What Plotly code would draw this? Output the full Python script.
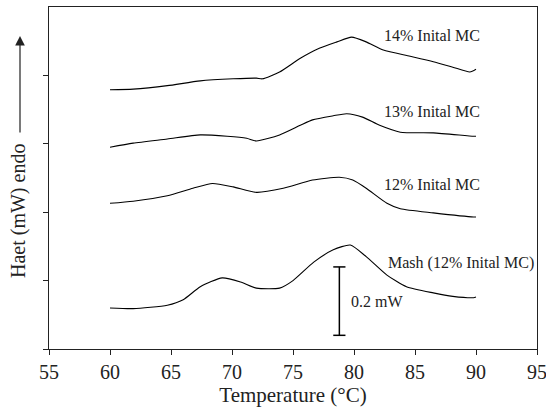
import plotly.graph_objects as go

FONT = "Liberation Serif"

# Temperature (°C) and offset heat-flow signal (plot units; 1 unit = 0.2 mW)
mash_t = [60, 61.9, 64.7, 66.0, 67.4, 69.2, 70.7, 72.0, 73.9, 75.0, 76.7, 78.3, 79.7, 81.0, 82.7, 84.3, 86.5, 88.1, 89.8, 90]
mash_y = [0.60, 0.59, 0.64, 0.72, 0.91, 1.04, 0.98, 0.89, 0.89, 1.00, 1.27, 1.45, 1.52, 1.35, 1.08, 0.91, 0.82, 0.77, 0.75, 0.76]

mc12_t = [60, 61.9, 64.7, 66.8, 68.4, 70.1, 72.0, 74.2, 76.6, 78.8, 79.9, 81.0, 82.7, 83.8, 86.5, 89.8, 90]
mc12_y = [2.13, 2.16, 2.24, 2.35, 2.42, 2.37, 2.29, 2.35, 2.47, 2.51, 2.47, 2.35, 2.13, 2.05, 1.99, 1.93, 1.93]

mc13_t = [60, 61.9, 64.7, 67.4, 69.6, 71.2, 72.0, 73.9, 75.6, 76.6, 78.3, 79.4, 80.7, 82.1, 83.8, 86.5, 89.8, 90]
mc13_y = [2.95, 3.01, 3.07, 3.13, 3.11, 3.08, 3.04, 3.13, 3.27, 3.35, 3.41, 3.44, 3.39, 3.27, 3.17, 3.16, 3.11, 3.11]

mc14_t = [60, 61.9, 64.7, 67.4, 70.1, 72.0, 72.5, 73.9, 75.6, 77.2, 78.6, 79.8, 81.0, 82.4, 84.6, 86.5, 88.1, 89.5, 90]
mc14_y = [3.79, 3.80, 3.85, 3.92, 3.95, 3.96, 3.95, 4.05, 4.25, 4.40, 4.49, 4.56, 4.49, 4.37, 4.28, 4.20, 4.12, 4.05, 4.09]

series_names = ["Mash (12% Inital MC)", "12% Inital MC", "13% Inital MC", "14% Inital MC"]
label_pos = [(82.6, 1.26), (82.3, 2.41), (82.3, 3.47), (82.3, 4.58)]

x_ticks = [55, 60, 65, 70, 75, 80, 85, 90, 95]
y_ticks = [0, 1, 2, 3, 4]

scale_x = 78.8
scale_y = [0.2, 1.2]
scale_label = "0.2 mW"

fig = go.Figure()
for t, y in [(mash_t, mash_y), (mc12_t, mc12_y), (mc13_t, mc13_y), (mc14_t, mc14_y)]:
    fig.add_trace(go.Scatter(x=t, y=y, mode="lines",
                             line=dict(color="black", width=1.1, shape="spline", smoothing=0.6),
                             showlegend=False, hoverinfo="skip"))

# scale bar
cap = 0.5
fig.add_trace(go.Scatter(
    x=[scale_x, scale_x, None, scale_x - cap, scale_x + cap, None, scale_x - cap, scale_x + cap],
    y=[scale_y[0], scale_y[1], None, scale_y[0], scale_y[0], None, scale_y[1], scale_y[1]],
    mode="lines", line=dict(color="black", width=1.5), showlegend=False, hoverinfo="skip"))

annotations = []
for name, (lx, ly) in zip(series_names, label_pos):
    annotations.append(dict(x=lx, y=ly, xref="x", yref="y", text=name, showarrow=False,
                            xanchor="left", yanchor="middle",
                            font=dict(family=FONT, size=16, color="#222")))
annotations.append(dict(x=scale_x + 0.8, y=0.69, xref="x", yref="y", text=scale_label,
                        showarrow=False, xanchor="left", yanchor="middle",
                        font=dict(family=FONT, size=16, color="#222")))
# y-axis title and arrow (plot area is 488 x 342 px)
annotations.append(dict(x=-31 / 488, y=(342 - 204) / 342, xref="paper", yref="paper",
                        text="Haet (mW) endo", textangle=-90, showarrow=False,
                        xanchor="center", yanchor="middle",
                        font=dict(family=FONT, size=20, color="#222")))
annotations.append(dict(x=-29 / 488, y=(342 - 29) / 342, xref="paper", yref="paper",
                        ax=0, ay=98, axref="pixel", ayref="pixel", text="",
                        showarrow=True, arrowhead=2, arrowsize=1.6, arrowwidth=1.2,
                        arrowcolor="#222"))

fig.update_layout(
    width=546, height=407,
    margin=dict(l=49, r=9, t=7, b=58, autoexpand=False),
    paper_bgcolor="white", plot_bgcolor="white",
    font=dict(family=FONT, color="#222"),
    annotations=annotations,
    xaxis=dict(range=[55, 95], tickvals=x_ticks, ticks="outside", ticklen=5,
               tickcolor="#222", showline=True, linecolor="#222", linewidth=1.2,
               mirror=True, showgrid=False, zeroline=False, ticklabeloverflow="allow",
               automargin=False,
               tickfont=dict(family=FONT, size=20),
               title=dict(text="Temperature (°C)", font=dict(family=FONT, size=21), standoff=2)),
    yaxis=dict(range=[0, 5], tickvals=y_ticks, showticklabels=False, ticks="outside",
               ticklen=5, tickcolor="#222", showline=True, linecolor="#222", linewidth=1.2,
               mirror=True, showgrid=False, zeroline=False, automargin=False),
)

fig.write_html("out.html", config={"displayModeBar": False},
               post_script="document.body.style.margin='0px';")
